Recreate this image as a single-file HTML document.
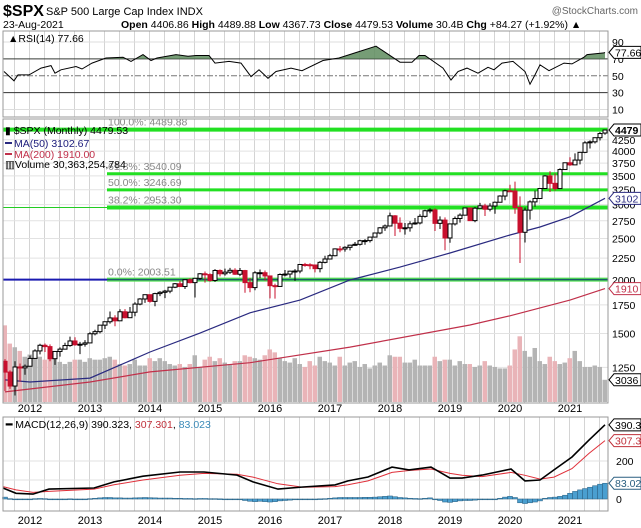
<!DOCTYPE html>
<html><head><meta charset="utf-8"><style>
body{margin:0;background:#fff;width:641px;height:528px;overflow:hidden;font-family:"Liberation Sans",sans-serif}
svg{display:block}
text{font-family:"Liberation Sans",sans-serif}
</style></head><body>
<svg id="c" width="641" height="528" xmlns="http://www.w3.org/2000/svg"></svg>
<script>
// ---------- data ----------
const closes=[1219,1131,1253,1247,1258,
1312,1366,1408,1398,1310,1362,1379,1406,1441,1412,1416,1426,
1498,1515,1569,1598,1631,1606,1686,1633,1682,1757,1806,1848,
1783,1859,1872,1884,1924,1960,1931,2003,1972,2018,2068,2059,
1995,2105,2068,2086,2107,2063,2104,1972,1920,2079,2080,2044,
1940,1932,2060,2065,2097,2099,2174,2171,2168,2126,2199,2239,
2279,2364,2363,2384,2412,2423,2470,2472,2519,2575,2648,2674,
2824,2714,2641,2648,2705,2718,2816,2902,2914,2712,2760,2507,
2704,2784,2834,2946,2752,2942,2980,2926,2977,3038,3141,3231,
3226,2954,2585,2912,3044,3100,3271,3500,3363,3270,3622,3756,
3714,3811,3973,4181,4204,4298,4395,4479.53];
const opens=[1292,1219,1131,1253,1247,
1258,1312,1366,1408,1398,1310,1362,1379,1406,1441,1412,1416,
1426,1498,1515,1569,1598,1631,1606,1686,1633,1682,1757,1806,
1848,1783,1859,1872,1884,1924,1960,1931,2003,1972,2018,2068,
2059,1995,2105,2068,2086,2107,2063,2104,1972,1920,2079,2080,
2044,1940,1932,2060,2065,2097,2099,2174,2171,2168,2126,2199,
2239,2279,2364,2363,2384,2412,2423,2470,2472,2519,2575,2648,
2674,2824,2714,2641,2648,2705,2718,2816,2902,2914,2712,2760,
2507,2704,2784,2834,2946,2752,2942,2980,2926,2977,3038,3141,
3231,3226,2954,2585,2912,3044,3100,3271,3500,3363,3270,3622,
3756,3714,3811,3973,4181,4204,4298,4406.86];
const highs=[1307,1230,1292,1277,1270,
1333,1378,1420,1422,1415,1363,1392,1427,1475,1470,1434,1448,
1510,1531,1570,1598,1688,1655,1709,1710,1730,1775,1814,1850,
1850,1868,1884,1897,1926,1968,1991,2006,2019,2019,2076,2093,
2072,2120,2117,2126,2135,2130,2133,2112,2021,2097,2116,2105,
2043,1962,2073,2111,2103,2121,2178,2193,2188,2169,2214,2278,
2301,2371,2401,2398,2418,2454,2484,2491,2520,2582,2657,2695,
2873,2835,2801,2717,2742,2791,2848,2917,2941,2940,2815,2800,
2708,2813,2861,2949,2954,2964,3027,3013,3021,3050,3154,3248,
3337,3394,3136,2954,3068,3233,3280,3514,3588,3549,3646,3760,
3870,3950,3983,4218,4238,4302,4429,4489.88];
const lows=[1101,1114,1075,1158,1202,
1259,1312,1341,1358,1292,1267,1325,1377,1397,1404,1343,1398,
1426,1485,1501,1537,1582,1560,1605,1627,1633,1646,1746,1768,
1771,1737,1834,1814,1862,1915,1930,1905,1964,1820,2001,1972,
1981,1980,2039,2048,2067,2056,2044,1867,1872,1893,2019,1993,
1812,1810,1937,2039,2025,1991,2074,2147,2119,2083,2084,2187,
2245,2271,2322,2329,2345,2405,2407,2418,2446,2520,2557,2605,
2683,2533,2586,2553,2594,2691,2698,2796,2864,2603,2631,2347,
2444,2681,2722,2848,2750,2729,2953,2822,2892,2856,3050,3070,
3215,2855,2192,2447,2767,2965,3101,3280,3209,3234,3280,3612,
3695,3725,3723,3955,4056,4165,4233,4367.73];
const volumes=[105,80,75,70,62,
65,60,62,58,65,62,55,52,55,58,58,55,
60,58,58,60,62,58,52,50,52,58,50,50,
60,56,60,56,52,50,52,48,52,64,48,58,
62,56,60,54,52,56,56,64,62,60,58,64,
72,68,60,56,54,60,52,48,56,50,62,56,
54,50,62,50,54,56,48,52,46,50,54,50,
64,62,62,54,54,58,50,50,50,62,56,58,
58,50,56,52,52,48,50,56,50,48,46,46,
50,72,90,70,62,74,56,52,62,56,52,54,
60,70,56,48,48,50,48,30.4];
const ma50Months=[-5,0,12,18,24,34,44,54,64,74,84,96,102,108,115];
const ma50Values=[1169,1156,1180,1266,1358,1503,1677,1795,2000,2144,2313,2548,2660,2809,3102.67];
const ma200Months=[-5,12,24,44,64,88,96,108,115];
const ma200Values=[1096,1156,1220,1282,1394,1570,1650,1795,1910];
const rsiMonths=[-5.2,-3.2,-2.4,-0.2,2.2,4.2,5,6.2,9.2,10.4,12.4,15.2,18.6,20.2,22.6,24.2,25.4,29.2,31.6,33.2,35.8,37,39.8,42.2,44.2,45.8,47.6,49.2,52.2,54.4,58.6,61.8,65,69.2,74,76.4,77.8,79,82.6,84.2,85.6,87.4,89.6,91.6,92.8,94.4,96.6,99,100,101,102,103.8,106.8,108.4,110.8,111.4,114.8,115];
const rsiValues=[55,44,51,51,59,62,53,57,61,58,65,71,72,67,75,68,71,75,73,74,74,65,67,65,49,57,47,55,59,56,68,71,77,85,66,66,74,74,59,45,55,59,53,60,57,65,67,55,40,51,63,56,65,64,72,75,77,77.66];
const macdMonths=[-5.4,-2.8,0.6,3.8,12.8,16.8,22.6,30,34.8,41.4,44.6,49.6,54.6,61,63.6,67.6,72.4,75.8,80.2,84,86.4,90.4,96.2,99,102,104.8,108.4,111.8,115];
const macdValues=[58,30,26,52,58,90,120,142,142,126,90,52,63,74,95,116,168,153,168,110,110,126,158,95,100,153,221,310,390.323];
const signalValues=[65,48,35,40,52,75,100,125,135,130,115,80,62,65,75,95,140,150,158,135,125,118,140,125,105,115,160,240,307.301];
const histValues=[10,2,-2,-3,-2,
0,2,3,2,0,-1,0,0,1,0,0,0,
2,4,6,8,8,6,6,5,5,6,7,8,
7,6,5,5,5,4,4,3,3,2,3,3,
2,2,1,0,0,-2,-4,-8,-12,-14,-12,-14,
-16,-14,-10,-8,-6,-4,-2,-1,0,0,1,2,
4,6,8,8,8,8,8,9,9,10,12,14,
16,12,8,6,4,3,2,4,6,0,-8,-16,
-18,-14,-10,-8,-8,-6,-4,-4,-3,0,4,10,
14,8,-20,-24,-20,-16,-10,4,8,10,14,20,
30,40,48,55,62,70,78,83.023];
const years=[2012,2013,2014,2015,2016,2017,2018,2019,2020,2021];
const priceTicks=[4250,4000,3750,3500,3250,3000,2750,2500,2250,2000,1750,1500,1250];
const rsiTicks=[90,70,50,30,10];
const macdTicks=[200,100,0];
const fibPct=["100.0%","61.8%","50.0%","38.2%","0.0%"];
const fibVals=[4489.88,3540.09,3246.69,2953.30,2003.51];

// ---------- helpers ----------
const S=document.getElementById('c');const NS='http://www.w3.org/2000/svg';
function el(t,a,p){const e=document.createElementNS(NS,t);for(const k in a)e.setAttribute(k,a[k]);(p||S).appendChild(e);return e;}
const L=3,R=608;
const xM=m=>30+5*m;
const yP=p=>280-186*Math.log(p/2000);
const yR=v=>118-0.845*v;
const yMa=v=>499-0.19*v;
const VB=402,vS=0.73;
function pathOf(ms,vs,fy){return ms.map((m,i)=>(i?'L':'M')+xM(m).toFixed(1)+','+fy(vs[i]).toFixed(1)).join(' ');}

// ---------- header ----------
let t;
t=el('text',{x:3,y:16,'font-size':16,'font-weight':'bold',fill:'#000'});t.textContent='$SPX';

t=el('text',{x:46,y:15,'font-size':11,fill:'#000'});t.textContent='S&P 500 Large Cap Index  INDX';

t=el('text',{x:638,y:14,'font-size':10,fill:'#666','text-anchor':'end'});t.textContent='@StockCharts.com';

t=el('text',{x:3,y:28,'font-size':10.5,fill:'#000'});t.textContent='23-Aug-2021';

t=el('text',{x:121,y:28,'font-size':10.5,fill:'#000'});
t.innerHTML='<tspan font-weight="bold">Open</tspan> 4406.86 <tspan font-weight="bold">High</tspan> 4489.88 <tspan font-weight="bold">Low</tspan> 4367.73 <tspan font-weight="bold">Close</tspan> 4479.53 <tspan font-weight="bold">Volume</tspan> 30.4B <tspan font-weight="bold">Chg</tspan> +84.27 (+1.92%) ▲';


// ---------- grids ----------
function vgrid(y1,y2){for(let m=-3;m<=117;m+=3){const x=xM(m)-0.5;if(x<L||x>R)continue;el('line',{x1:x,x2:x,y1:y1,y2:y2,stroke:'#d4d4d4','stroke-width':1});}}
// RSI panel
const rsiG=el('g',{});
vgrid(31,117);
rsiTicks.forEach(v=>{const y=yR(v);el('line',{x1:L,x2:R,y1:y,y2:y,stroke:v==70||v==30?'#333':(v==50?'#777':'#ddd'),'stroke-width':1,'stroke-dasharray':v==50?'6,2,2,2':'none'});
 const tt=el('text',{x:612,y:y+4,'font-size':10.5,fill:'#000'});tt.textContent=v;});
const rd=pathOf(rsiMonths,rsiValues,yR);
const cp=el('clipPath',{id:'above70'});el('rect',{x:L,y:0,width:R-L,height:yR(70)},cp);
el('path',{d:rd+' L'+xM(rsiMonths[rsiMonths.length-1])+','+yR(70)+' L'+xM(rsiMonths[0])+','+yR(70)+'Z',fill:'#5e8c5e','fill-opacity':0.85,'clip-path':'url(#above70)'});
const rl=el('path',{d:rd,fill:'none',stroke:'#000','stroke-width':1});

el('rect',{x:L,y:31,width:R-L,height:86,fill:'none',stroke:'#999'});
t=el('text',{x:8,y:42,'font-size':10.5,fill:'#000'});t.textContent='▲RSI(14) 77.66';


function tag(y,txt,col,bold,name){
 const g=el('g',{});
 el('path',{d:`M609,${y} L614,${y-6} L641,${y-6} L641,${y+6} L614,${y+6} Z`,fill:'#fff',stroke:col,'stroke-width':1},g);
 const tx=el('text',{x:615,y:y+4,'font-size':10.5,fill:col,'font-weight':bold?'bold':'normal'},g);tx.textContent=txt;}
tag(yR(77.66),'77.66','#000',false,'rsi-value-tag');

// ---------- main panel ----------
const mainTop=119,mainBot=403;
vgrid(mainTop,mainBot);
priceTicks.forEach(p=>{const y=yP(p);el('line',{x1:L,x2:R,y1:y,y2:y,stroke:'#e2e2e2'});
 const tt=el('text',{x:612,y:y+4,'font-size':10.5,fill:'#000'});tt.textContent=p;});
// volume
volumes.forEach((v,i)=>{const m=i-5,x=xM(m);const down=closes[i]<opens[i];
 const r=el('rect',{x:x-2.5,y:VB-v*vS,width:4.5,height:v*vS,fill:down?'#e9b4b8':'#b4b4b4'});
 });
// fib lines
fibVals.forEach((v,i)=>{const y=yP(v);
 if(i==0){el('line',{x1:L,x2:R,y1:y,y2:y,stroke:'#22e022','stroke-width':4});}
 else if(i==4){el('line',{x1:L,x2:107,y1:y,y2:y,stroke:'#1a1ab0','stroke-width':2});el('line',{x1:107,x2:R,y1:y,y2:y,stroke:'#55e055','stroke-width':4});el('line',{x1:107,x2:R,y1:y,y2:y,stroke:'#1b5c6a','stroke-width':1.5});}
 else{if(i==3)el('line',{x1:L,x2:107,y1:y,y2:y,stroke:'#22cc22','stroke-width':1});el('line',{x1:107,x2:R,y1:y,y2:y,stroke:'#22e022','stroke-width':i==3?4:3});}
 const tt=el('text',{x:108,y:y-4,'font-size':10.5,fill:'#888'});tt.textContent=fibPct[i]+': '+v.toFixed(2);
 });
// MAs
let p=el('path',{d:pathOf(ma200Months,ma200Values,yP),fill:'none',stroke:'#c0304a','stroke-width':1.2});

p=el('path',{d:pathOf(ma50Months,ma50Values,yP),fill:'none',stroke:'#2a2a80','stroke-width':1.2});

// candles
closes.forEach((c,i)=>{const m=i-5,x=xM(m),o=opens[i];const down=c<o;const col=down?'#c8102e':'#000';
 const g=el('g',{});
 el('line',{x1:x,x2:x,y1:yP(highs[i]),y2:yP(lows[i]),stroke:col,'stroke-width':1},g);
 const yt=yP(Math.max(o,c)),yb=yP(Math.min(o,c));
 el('rect',{x:x-2,y:yt,width:4,height:Math.max(1,yb-yt),fill:down?'#c8102e':'#fff',stroke:col,'stroke-width':1},g);});
el('rect',{x:L,y:mainTop,width:R-L,height:mainBot-mainTop,fill:'none',stroke:'#999'});
// legend
const lg=el('g',{});
t=el('text',{x:5,y:134,'font-size':10.5,fill:'#000'},lg);t.textContent='▮ $SPX (Monthly) 4479.53';
el('line',{x1:5,x2:12,y1:143,y2:143,stroke:'#2a2a80','stroke-width':2},lg);
t=el('text',{x:14,y:147,'font-size':10.5,fill:'#1a1a7a'},lg);t.textContent='MA(50) 3102.67';
el('line',{x1:5,x2:12,y1:154,y2:154,stroke:'#c0304a','stroke-width':2},lg);
t=el('text',{x:14,y:158,'font-size':10.5,fill:'#c0304a'},lg);t.textContent='MA(200) 1910.00';
t=el('text',{x:5,y:168,'font-size':10.5,fill:'#000'},lg);t.textContent='▥Volume 30,363,254,784';
tag(yP(4479.53),'4479','#000',true,'price-tag');
tag(yP(3102.67),'3102','#2a2a80',false,'ma50-tag');
tag(yP(1910),'1910','#c0304a',false,'ma200-tag');
tag(VB-30.4*vS,'3036','#000',false,'volume-tag');
// x labels
function xlabels(y,pre){years.forEach(yr=>{const tt=el('text',{x:xM((yr-2012)*12),y:y,'font-size':11,'text-anchor':'middle',fill:'#000'});tt.textContent=yr;
 });}
xlabels(412,'main');

// ---------- MACD ----------
const mTop=417,mBot=511;
vgrid(mTop,mBot);
macdTicks.forEach(v=>{const y=yMa(v);el('line',{x1:L,x2:R,y1:y,y2:y,stroke:'#e2e2e2'});
 const tt=el('text',{x:616,y:y+4,'font-size':10.5,fill:'#000'});tt.textContent=v;});
histValues.forEach((h,i)=>{const x=xM(i-5);const y0=yMa(0),y1=yMa(h);
 const r=el('rect',{x:x-2.5,y:Math.min(y0,y1),width:5,height:Math.max(0.8,Math.abs(y1-y0)),fill:'#4a9fd0',stroke:'#2a5f80','stroke-width':0.5});
 });
p=el('path',{d:pathOf(macdMonths,signalValues,yMa),fill:'none',stroke:'#e0303a','stroke-width':1});

p=el('path',{d:pathOf(macdMonths,macdValues,yMa),fill:'none',stroke:'#000','stroke-width':1.6});

el('rect',{x:L,y:mTop,width:R-L,height:mBot-mTop,fill:'none',stroke:'#999'});
t=el('text',{x:6,y:428,'font-size':10.5,fill:'#000'});
t.innerHTML='<tspan font-weight="bold">━</tspan> MACD(12,26,9) 390.323, <tspan fill="#c0303a">307.301</tspan>, <tspan fill="#3a8ab8">83.023</tspan>';

tag(yMa(390.323),'390.3','#000',false,'macd-tag');
tag(yMa(307.301),'307.3','#c0303a',false,'signal-tag');
tag(yMa(83.023),'83.02','#2a5f80',false,'histogram-tag');
xlabels(524,'macd');
</script>
</body></html>
